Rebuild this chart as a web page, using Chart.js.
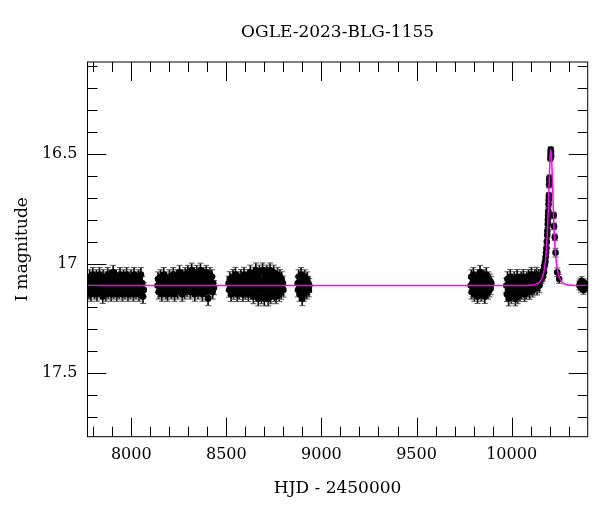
<!DOCTYPE html>
<html>
<head>
<meta charset="utf-8">
<title>OGLE-2023-BLG-1155</title>
<script src="https://cdn.jsdelivr.net/npm/chart.js@4/dist/chart.umd.min.js"></script>
<style>
  html, body { margin: 0; padding: 0; background: #fff; }
  #wrap { width: 600px; height: 512px; }
</style>
</head>
<body>
<div id="wrap"><canvas id="lc" width="600" height="512"></canvas></div>
<script>
// light curve OGLE-2023-BLG-1155 (I band)
const chartTitle = 'OGLE-2023-BLG-1155';
const xTitle = 'HJD - 2450000';
const yTitle = 'I magnitude';
const xTicks = [8000, 8500, 9000, 9500, 10000];
const yTicks = [16.5, 17, 17.5];

// season 1
const s1Hjd = [7775, 7778, 7781, 7785, 7788, 7791, 7794, 7798, 7801, 7804,
  7807, 7811, 7814, 7817, 7820, 7824, 7827, 7830, 7833, 7837,
  7840, 7843, 7846, 7850, 7853, 7856, 7859, 7863, 7866, 7869,
  7872, 7876, 7879, 7882, 7885, 7889, 7892, 7895, 7898, 7902,
  7905, 7908, 7911, 7915, 7918, 7921, 7924, 7928, 7931, 7934,
  7937, 7941, 7944, 7947, 7950, 7954, 7957, 7960, 7963, 7967,
  7970, 7973, 7976, 7980, 7983, 7986, 7989, 7993, 7996, 7999,
  8002, 8006, 8009, 8012, 8015, 8019, 8022, 8025, 8028, 8032,
  8035, 8038, 8041, 8045, 8048, 8051, 8054, 8058, 8062, 8066];
const s1Mag = [17.09, 17.13, 17.06, 17.11, 17.14, 17.08, 17.10, 17.05, 17.12, 17.07,
  17.13, 17.09, 17.11, 17.06, 17.14, 17.10, 17.08, 17.12, 17.05, 17.11,
  17.07, 17.13, 17.09, 17.15, 17.06, 17.10, 17.12, 17.08, 17.14, 17.07,
  17.11, 17.05, 17.13, 17.09, 17.06, 17.12, 17.10, 17.14, 17.08, 17.11,
  17.04, 17.13, 17.07, 17.10, 17.12, 17.06, 17.14, 17.09, 17.11, 17.08,
  17.13, 17.05, 17.10, 17.12, 17.07, 17.14, 17.09, 17.06, 17.11, 17.13,
  17.08, 17.10, 17.05, 17.12, 17.14, 17.07, 17.11, 17.09, 17.13, 17.06,
  17.10, 17.12, 17.08, 17.14, 17.05, 17.11, 17.09, 17.13, 17.07, 17.10,
  17.12, 17.06, 17.14, 17.08, 17.11, 17.05, 17.13, 17.09, 17.15, 17.12];
// season 2
const s2Hjd = [8138, 8141, 8144, 8148, 8151, 8154, 8158, 8161, 8164, 8168,
  8171, 8174, 8178, 8181, 8184, 8188, 8191, 8194, 8198, 8201,
  8204, 8208, 8211, 8214, 8218, 8221, 8224, 8228, 8231, 8234,
  8238, 8241, 8244, 8248, 8251, 8254, 8258, 8261, 8264, 8268,
  8271, 8274, 8278, 8281, 8284, 8288, 8291, 8294, 8298, 8301,
  8304, 8308, 8311, 8314, 8318, 8321, 8324, 8328, 8331, 8334,
  8338, 8341, 8344, 8348, 8351, 8354, 8358, 8361, 8364, 8368,
  8371, 8374, 8378, 8381, 8384, 8388, 8391, 8394, 8398, 8401,
  8404, 8408, 8411, 8414, 8418, 8421, 8424, 8428, 8431, 8435];
const s2Mag = [17.10, 17.07, 17.13, 17.09, 17.12, 17.06, 17.11, 17.14, 17.08, 17.10,
  17.05, 17.12, 17.09, 17.13, 17.07, 17.11, 17.14, 17.08, 17.10, 17.06,
  17.12, 17.09, 17.13, 17.07, 17.11, 17.05, 17.10, 17.14, 17.08, 17.12,
  17.06, 17.09, 17.13, 17.07, 17.11, 17.04, 17.10, 17.12, 17.08, 17.14,
  17.06, 17.11, 17.09, 17.13, 17.05, 17.10, 17.07, 17.12, 17.04, 17.09,
  17.11, 17.06, 17.13, 17.08, 17.03, 17.10, 17.12, 17.05, 17.09, 17.14,
  17.07, 17.11, 17.04, 17.10, 17.13, 17.06, 17.08, 17.12, 17.03, 17.10,
  17.07, 17.14, 17.09, 17.05, 17.11, 17.08, 17.13, 17.04, 17.10, 17.06,
  17.16, 17.09, 17.12, 17.05, 17.08, 17.11, 17.06, 17.13, 17.09, 17.11];
// season 3
const s3Hjd = [8512, 8515, 8518, 8522, 8525, 8528, 8531, 8535, 8538, 8541,
  8544, 8548, 8551, 8554, 8557, 8561, 8564, 8567, 8570, 8574,
  8577, 8580, 8583, 8587, 8590, 8593, 8596, 8600, 8603, 8606,
  8609, 8613, 8616, 8619, 8622, 8626, 8629, 8632, 8635, 8639,
  8642, 8645, 8648, 8652, 8655, 8658, 8661, 8665, 8668, 8671,
  8674, 8678, 8681, 8684, 8687, 8691, 8694, 8697, 8700, 8704,
  8707, 8710, 8713, 8717, 8720, 8723, 8726, 8730, 8733, 8736,
  8739, 8743, 8746, 8749, 8752, 8756, 8759, 8762, 8765, 8769,
  8772, 8775, 8778, 8782, 8785, 8788, 8791, 8794, 8797, 8800];
const s3Mag = [17.09, 17.12, 17.07, 17.11, 17.14, 17.08, 17.10, 17.06, 17.13, 17.09,
  17.11, 17.05, 17.12, 17.08, 17.14, 17.10, 17.07, 17.13, 17.09, 17.11,
  17.06, 17.12, 17.08, 17.14, 17.10, 17.05, 17.11, 17.13, 17.07, 17.09,
  17.12, 17.06, 17.14, 17.08, 17.10, 17.04, 17.13, 17.09, 17.11, 17.07,
  17.15, 17.05, 17.12, 17.08, 17.03, 17.14, 17.10, 17.06, 17.16, 17.09,
  17.04, 17.12, 17.07, 17.15, 17.10, 17.03, 17.13, 17.08, 17.16, 17.05,
  17.11, 17.14, 17.04, 17.09, 17.16, 17.07, 17.12, 17.03, 17.15, 17.10,
  17.06, 17.13, 17.08, 17.04, 17.14, 17.11, 17.07, 17.15, 17.09, 17.05,
  17.12, 17.08, 17.14, 17.06, 17.10, 17.13, 17.07, 17.11, 17.09, 17.12];
// season 4
const s4Hjd = [8875, 8877, 8880, 8883, 8885, 8888, 8891, 8893, 8896, 8899,
  8901, 8904, 8907, 8909, 8912, 8915, 8917, 8920, 8923, 8925,
  8928, 8931, 8934, 8936];
const s4Mag = [17.09, 17.12, 17.06, 17.11, 17.14, 17.08, 17.10, 17.05, 17.13, 17.16,
  17.07, 17.11, 17.09, 17.14, 17.06, 17.12, 17.08, 17.10, 17.13, 17.07,
  17.11, 17.09, 17.12, 17.10];
// season 5
const s5Hjd = [9785, 9788, 9790, 9793, 9796, 9799, 9801, 9804, 9807, 9810,
  9812, 9815, 9818, 9821, 9823, 9826, 9829, 9832, 9834, 9837,
  9840, 9843, 9845, 9848, 9851, 9854, 9856, 9859, 9862, 9865,
  9867, 9870, 9873, 9876, 9878, 9881, 9884, 9887, 9890, 9893];
const s5Mag = [17.10, 17.06, 17.13, 17.09, 17.12, 17.05, 17.11, 17.14, 17.08, 17.10,
  17.07, 17.13, 17.09, 17.15, 17.06, 17.11, 17.08, 17.12, 17.04, 17.10,
  17.14, 17.07, 17.11, 17.09, 17.13, 17.06, 17.10, 17.15, 17.08, 17.12,
  17.05, 17.11, 17.09, 17.13, 17.07, 17.10, 17.12, 17.08, 17.11, 17.09];
// season 6, baseline before the event
const s6Hjd = [9972, 9975, 9978, 9981, 9984, 9987, 9990, 9993, 9996, 9999,
  10002, 10005, 10008, 10011, 10014, 10017, 10020, 10023, 10026, 10029,
  10032, 10035, 10038, 10041, 10044, 10047, 10050, 10053, 10056, 10059,
  10062, 10065, 10068, 10071, 10074, 10077, 10080, 10083, 10086, 10089,
  10092, 10095, 10098, 10101, 10104, 10107, 10110, 10113, 10116, 10119,
  10122, 10125, 10128, 10131, 10134, 10137, 10140, 10143, 10146, 10148];
const s6Mag = [17.10, 17.14, 17.07, 17.12, 17.16, 17.09, 17.11, 17.06, 17.13, 17.15,
  17.08, 17.12, 17.10, 17.14, 17.07, 17.11, 17.16, 17.09, 17.13, 17.06,
  17.15, 17.10, 17.12, 17.08, 17.14, 17.11, 17.07, 17.13, 17.09, 17.12,
  17.06, 17.10, 17.14, 17.08, 17.11, 17.13, 17.07, 17.10, 17.12, 17.06,
  17.09, 17.13, 17.08, 17.11, 17.05, 17.10, 17.12, 17.07, 17.09, 17.11,
  17.06, 17.10, 17.08, 17.05, 17.11, 17.07, 17.09, 17.06, 17.10, 17.07];
// typical error of seasons 1-6
const seasonErr = [0.032, 0.032, 0.033, 0.032, 0.032, 0.033];

// the event
const evHjd = [10150, 10154, 10158, 10161, 10164, 10167, 10170, 10172, 10175, 10177,
  10179, 10181, 10183, 10185, 10187, 10188, 10190, 10191, 10192, 10193,
  10194, 10195, 10196, 10197, 10198, 10199, 10204, 10205, 10206, 10207,
  10208, 10221, 10223, 10227, 10231, 10240, 10250];
const evMag = [17.08, 17.06, 17.07, 17.05, 17.06, 17.03, 17.04, 17.01, 17.00, 16.99,
  16.97, 16.95, 16.93, 16.90, 16.87, 16.85, 16.82, 16.80, 16.78, 16.76,
  16.73, 16.71, 16.69, 16.64, 16.62, 16.61, 16.52, 16.50, 16.48, 16.49,
  16.51, 16.78, 16.83, 16.88, 16.95, 17.04, 17.07];
const evErr = [0.02, 0.02, 0.02, 0.02, 0.02, 0.02, 0.02, 0.02, 0.02, 0.02,
  0.02, 0.02, 0.015, 0.015, 0.015, 0.015, 0.015, 0.015, 0.015, 0.015,
  0.015, 0.015, 0.015, 0.015, 0.015, 0.015, 0.012, 0.012, 0.012, 0.012,
  0.012, 0.015, 0.015, 0.015, 0.02, 0.02, 0.02];
// last few points
const s7Hjd = [10356, 10360, 10364, 10368, 10373, 10378, 10384, 10390, 10395];
const s7Mag = [17.10, 17.09, 17.11, 17.08, 17.10, 17.12, 17.09, 17.11, 17.10];
const s7Err = [0.02, 0.02, 0.02, 0.02, 0.02, 0.02, 0.02, 0.02, 0.02];

// model curve (magenta)
const modelHjd = [7770, 10056, 10126, 10151, 10166, 10176, 10181, 10186, 10190, 10194, 10197, 10200, 10203, 10206, 10209, 10212, 10215, 10218, 10222, 10226, 10231, 10236, 10246, 10261, 10286, 10356, 10400];
const modelMag = [17.10, 17.10, 17.095, 17.08, 17.05, 17.00, 16.96, 16.89, 16.82, 16.72, 16.64, 16.56, 16.50, 16.48, 16.50, 16.56, 16.64, 16.72, 16.82, 16.89, 16.96, 17.00, 17.05, 17.08, 17.095, 17.10, 17.10];

const seasons = [
  [s1Hjd, s1Mag, seasonErr[0]], [s2Hjd, s2Mag, seasonErr[1]], [s3Hjd, s3Mag, seasonErr[2]],
  [s4Hjd, s4Mag, seasonErr[3]], [s5Hjd, s5Mag, seasonErr[4]], [s6Hjd, s6Mag, seasonErr[5]],
  [evHjd, evMag, evErr], [s7Hjd, s7Mag, s7Err]
];
const points = [];
seasons.forEach(([t, m, e]) => {
  t.forEach((v, i) => points.push({ x: v, y: m[i], err: Array.isArray(e) ? e[i] : e }));
});
const model = modelHjd.map((v, i) => ({ x: v, y: modelMag[i] }));

const serif = "'DejaVu Serif', 'Liberation Serif', serif";

// エラーバー
const errorBars = {
  id: 'errorBars',
  beforeDatasetsDraw(chart) {
    const ctx = chart.ctx;
    const xs = chart.scales.x, ys = chart.scales.y;
    const area = chart.chartArea;
    ctx.save();
    ctx.beginPath();
    ctx.rect(area.left, area.top, area.right - area.left, area.bottom - area.top);
    ctx.clip();
    points.forEach(p => {
      const px = xs.getPixelForValue(p.x);
      const y1 = ys.getPixelForValue(p.y - p.err);
      const y2 = ys.getPixelForValue(p.y + p.err);
      ctx.strokeStyle = '#000';
      ctx.lineWidth = 1.6;
      ctx.beginPath();
      ctx.moveTo(px, y1);
      ctx.lineTo(px, y2);
      ctx.stroke();
      ctx.strokeStyle = '#555';
      ctx.lineWidth = 1;
      ctx.beginPath();
      ctx.moveTo(px - 3, y1); ctx.lineTo(px + 3, y1);
      ctx.moveTo(px - 3, y2); ctx.lineTo(px + 3, y2);
      ctx.stroke();
    });
    ctx.restore();
  }
};

// 枠と内向きの目盛り
const frame = {
  id: 'frame',
  afterDatasetsDraw(chart) {
    const ctx = chart.ctx;
    const xs = chart.scales.x, ys = chart.scales.y;
    const { left, right, top, bottom } = chart.chartArea;
    ctx.save();
    ctx.strokeStyle = '#000';
    ctx.lineWidth = 1;
    ctx.strokeRect(left, top, right - left, bottom - top);
    ctx.beginPath();
    for (let v = 7800; v <= 10400; v += 100) {
      const px = Math.round(xs.getPixelForValue(v)) + 0.5;
      if (px <= left + 1 || px >= right - 1) continue;
      const len = xTicks.includes(v) ? 19 : 10;
      ctx.moveTo(px, bottom); ctx.lineTo(px, bottom - len);
      ctx.moveTo(px, top); ctx.lineTo(px, top + len);
    }
    for (let k = 161; k <= 177; k++) {
      const v = k / 10;
      const py = Math.round(ys.getPixelForValue(v)) + 0.5;
      const len = yTicks.includes(v) ? 19 : 10;
      ctx.moveTo(left, py); ctx.lineTo(left + len, py);
      ctx.moveTo(right, py); ctx.lineTo(right - len, py);
    }
    ctx.stroke();
    ctx.restore();
  },
  afterDraw(chart) {
    const ctx = chart.ctx;
    const { left, right } = chart.chartArea;
    ctx.save();
    ctx.fillStyle = '#000';
    ctx.font = '17px ' + serif;
    ctx.textAlign = 'center';
    ctx.textBaseline = 'middle';
    ctx.fillText(chartTitle, (left + right) / 2, 33);
    ctx.restore();
  }
};

new Chart(document.getElementById('lc'), {
  type: 'scatter',
  data: {
    datasets: [
      {
        label: 'model',
        data: model,
        showLine: true,
        borderColor: '#ff00ff',
        borderWidth: 1.5,
        pointRadius: 0,
        cubicInterpolationMode: 'monotone',
        order: 0
      },
      {
        label: 'OGLE I',
        data: points,
        backgroundColor: '#000',
        borderWidth: 0,
        pointRadius: 3.3,
        order: 1
      }
    ]
  },
  options: {
    responsive: false,
    animation: false,
    devicePixelRatio: 1,
    layout: { padding: { top: 62, right: 12.3, left: 0, bottom: 0 } },
    plugins: {
      legend: { display: false },
      tooltip: { enabled: false },
      title: { display: false }
    },
    scales: {
      x: {
        type: 'linear',
        position: 'bottom',
        min: 7770,
        max: 10400,
        grid: { display: false, drawTicks: false },
        border: { display: false },
        afterBuildTicks: s => { s.ticks = xTicks.map(v => ({ value: v })); },
        afterFit: s => { s.height = 75.3; },
        ticks: {
          color: '#000',
          font: { family: serif, size: 16 },
          padding: 9,
          maxRotation: 0,
          callback: v => String(v)
        },
        title: {
          display: true,
          text: xTitle,
          color: '#000',
          font: { family: serif, size: 17 },
          padding: { top: 0, bottom: 13 }
        }
      },
      y: {
        type: 'linear',
        reverse: true,
        min: 16.08,
        max: 17.79,
        grid: { display: false, drawTicks: false },
        border: { display: false },
        afterBuildTicks: s => { s.ticks = yTicks.map(v => ({ value: v })); },
        afterFit: s => { s.width = 87.5; },
        ticks: {
          color: '#000',
          font: { family: serif, size: 16 },
          padding: 10,
          callback: v => String(v)
        },
        title: {
          display: true,
          text: yTitle,
          color: '#000',
          font: { family: serif, size: 17 },
          padding: { top: 12, bottom: 0 }
        }
      }
    }
  },
  plugins: [errorBars, frame]
});
</script>
</body>
</html>
